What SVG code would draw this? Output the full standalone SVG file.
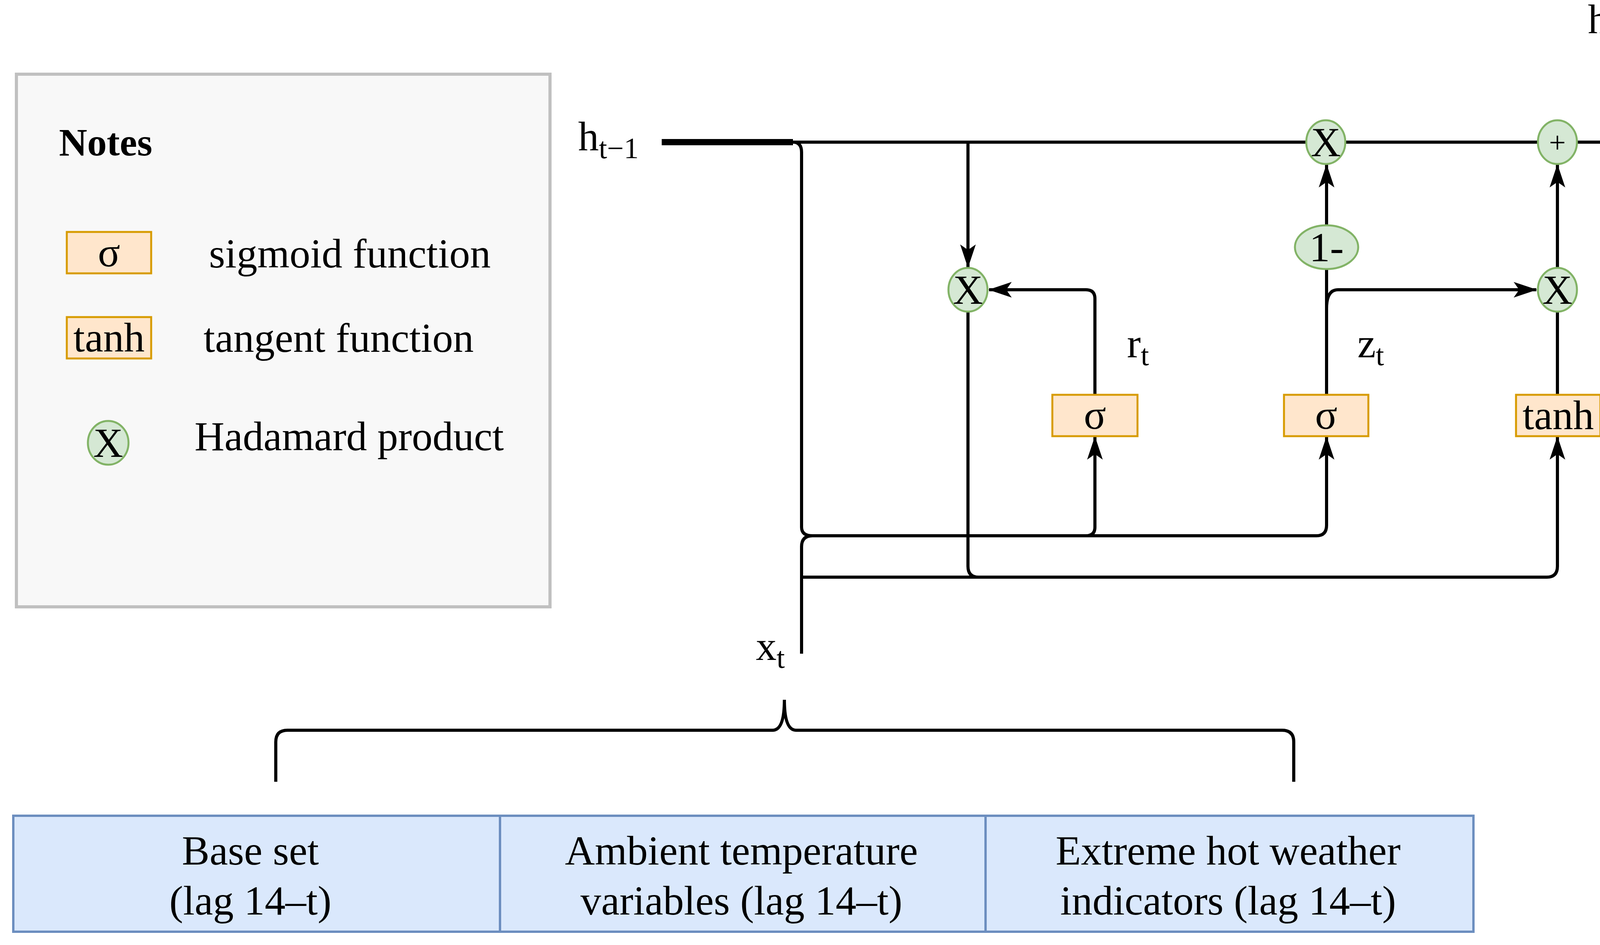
<svg xmlns="http://www.w3.org/2000/svg" width="4366" height="2420" viewBox="0 0 4366 2420">
<style>
text{font-family:"Liberation Serif","Times New Roman",serif;fill:#000}
.t{font-size:106px}
.c{text-anchor:middle}
.ln{fill:none;stroke:#000;stroke-width:8}
.box{fill:#ffe6cc;stroke:#d79b00;stroke-width:5}
.op{fill:#d5e8d4;stroke:#82b366;stroke-width:5}
.cell{fill:#dae8fc;stroke:#6c8ebf;stroke-width:6}
</style>
<defs>
<marker id="a" viewBox="0 0 60 40" markerWidth="60" markerHeight="40" refX="58" refY="20" orient="auto" markerUnits="userSpaceOnUse">
<path d="M0 0 L60 20 L0 40 L14 20 Z" fill="#000"/>
</marker>
</defs>
<g id="legend">
<rect x="42" y="190" width="1366" height="1364" fill="#f8f8f8" stroke="#c0c0c0" stroke-width="8"/>
<text x="151" y="398" font-size="100" font-weight="bold">Notes</text>
<rect class="box" x="171" y="594" width="216" height="106"/>
<text class="t c" x="279" y="682">σ</text>
<text class="t" x="535" y="685">sigmoid function</text>
<rect class="box" x="171" y="812" width="216" height="106"/>
<text class="t c" x="279" y="900">tanh</text>
<text class="t" x="521" y="901">tangent function</text>
<ellipse class="op" cx="277" cy="1134" rx="52" ry="56"/>
<text class="t c" x="277" y="1170">X</text>
<text class="t" x="498" y="1153">Hadamard product</text>
</g>
<g id="connectors">
<line x1="1694" y1="364" x2="2030" y2="364" stroke="#000" stroke-width="16"/>
<path class="ln" d="M1694 364 L4354 364" marker-end="url(#a)"/>
<path class="ln" d="M4150 364 Q4206 364 4206 320 L4206 106" marker-end="url(#a)"/>
<path class="ln" d="M2030 364 Q2052 364 2052 390 L2052 1350 Q2052 1372 2080 1372 L2780 1372 Q2803 1372 2803 1350 L2803 1119" marker-end="url(#a)"/>
<path class="ln" d="M2780 1372 L3370 1372 Q3396 1372 3396 1345 L3396 1119" marker-end="url(#a)"/>
<path class="ln" d="M2052 1674 L2052 1400 Q2052 1372 2080 1372"/>
<path class="ln" d="M2052 1478 L3960 1478 Q3987 1478 3987 1450 L3987 1119" marker-end="url(#a)"/>
<path class="ln" d="M2478 798 L2478 1450 Q2478 1478 2505 1478"/>
<path class="ln" d="M2478 364 L2478 684" marker-end="url(#a)"/>
<path class="ln" d="M2803 1011 L2803 765 Q2803 742 2780 742 L2532 742" marker-end="url(#a)"/>
<path class="ln" d="M3396 1011 L3396 689"/>
<path class="ln" d="M3396 577 L3396 422" marker-end="url(#a)"/>
<path class="ln" d="M3396 790 Q3396 742 3425 742 L3933 742" marker-end="url(#a)"/>
<path class="ln" d="M3987 1011 L3987 798"/>
<path class="ln" d="M3987 686 L3987 422" marker-end="url(#a)"/>
<path class="ln" d="M706 2002 L706 1900 Q706 1870 736 1870 L1978 1870 Q2008 1870 2008 1792 Q2008 1870 2038 1870 L3282 1870 Q3312 1870 3312 1900 L3312 2002"/>
</g>
<g id="labels">
<text class="t" x="1480" y="385">h<tspan font-size="76" dy="20">t−1</tspan></text>
<text class="t" x="4065" y="85">h<tspan font-size="76" dy="20">t</tspan></text>
<text class="t" x="2885" y="915">r<tspan font-size="76" dy="20">t</tspan></text>
<text class="t" x="3475" y="915">z<tspan font-size="76" dy="20">t</tspan></text>
<text class="t" x="4100" y="915">h<tspan font-size="76" dy="20">t</tspan></text>
<line x1="4097" y1="796" x2="4130" y2="796" stroke="#000" stroke-width="5"/>
<text class="t" x="1935" y="1690">x<tspan font-size="76" dy="20">t</tspan></text>
</g>
<g id="ops">
<ellipse class="op" cx="3394" cy="364" rx="50" ry="56"/>
<text class="t c" x="3394" y="400">X</text>
<ellipse class="op" cx="3987" cy="364" rx="50" ry="56"/>
<text class="c" x="3987" y="390" font-size="76">+</text>
<ellipse class="op" cx="2478" cy="742" rx="50" ry="56"/>
<text class="t c" x="2478" y="778">X</text>
<ellipse class="op" cx="3987" cy="742" rx="50" ry="56"/>
<text class="t c" x="3987" y="778">X</text>
<ellipse class="op" cx="3396" cy="633" rx="81" ry="56"/>
<text class="t c" x="3396" y="669">1-</text>
</g>
<g id="gates">
<rect class="box" x="2694" y="1011" width="218" height="106"/>
<text class="t c" x="2803" y="1098">σ</text>
<rect class="box" x="3287" y="1011" width="216" height="106"/>
<text class="t c" x="3395" y="1098">σ</text>
<rect class="box" x="3881" y="1011" width="216" height="106"/>
<text class="t c" x="3989" y="1099">tanh</text>
</g>
<g id="inputs">
<rect class="cell" x="34" y="2089" width="1246" height="297"/>
<rect class="cell" x="1280" y="2089" width="1243" height="297"/>
<rect class="cell" x="2523" y="2089" width="1249" height="297"/>
<text class="t c" x="641" y="2214">Base set</text>
<text class="t c" x="641" y="2342">(lag 14–t)</text>
<text class="t c" x="1898" y="2214">Ambient temperature</text>
<text class="t c" x="1898" y="2342">variables (lag 14–t)</text>
<text class="t c" x="3144" y="2214">Extreme hot weather</text>
<text class="t c" x="3144" y="2342">indicators (lag 14–t)</text>
</g>
</svg>
